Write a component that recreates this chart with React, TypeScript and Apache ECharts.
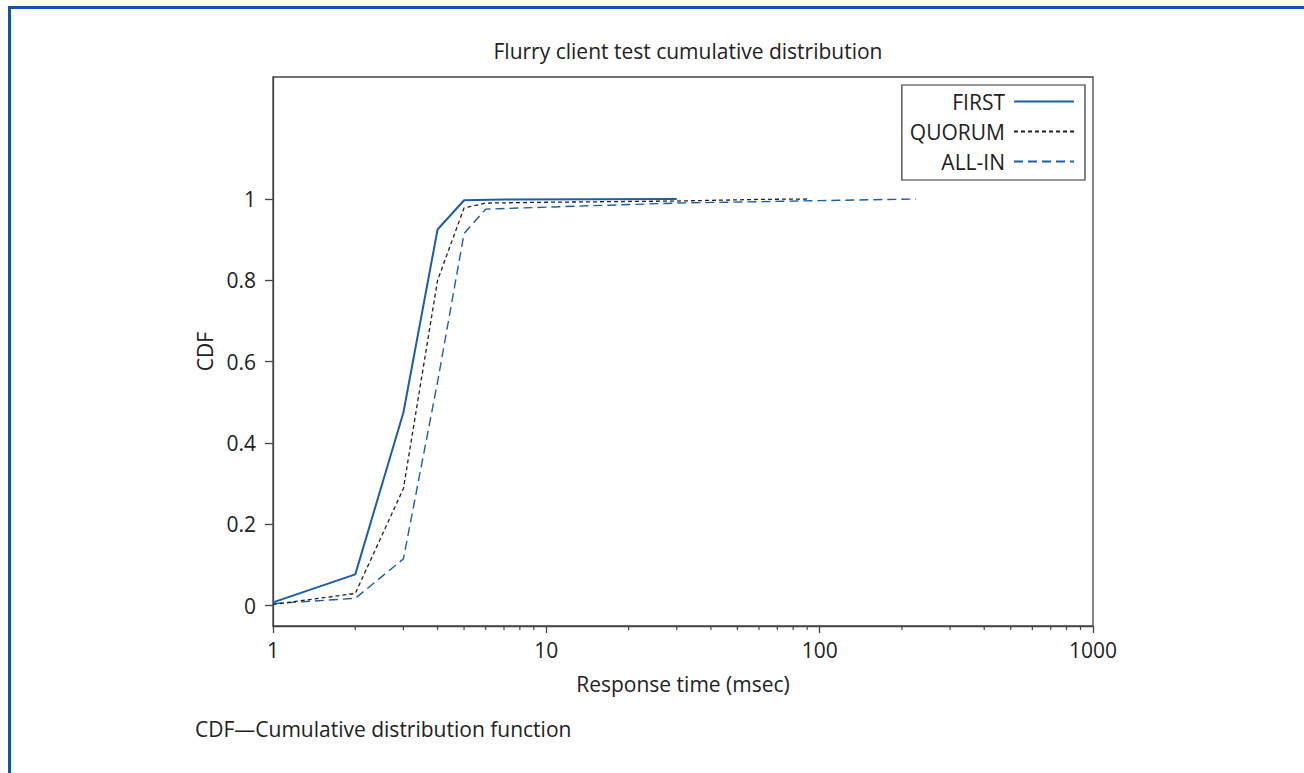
import React, { useEffect, useRef } from "react";
import * as echarts from "echarts";

const FONT = "'Open Sans', 'Noto Sans', sans-serif";
const FS = 21;
const BLUE = "#1a5fa8";
const DARK = "#222222";

const seriesNames = ["FIRST", "QUORUM", "ALL-IN"];

// [response time (msec), CDF]
const firstData: [number, number][] = [
  [1, 0.008], [2, 0.077], [3, 0.475], [4, 0.925], [5, 0.997], [7, 0.999], [30, 1.0],
];
const quorumData: [number, number][] = [
  [1, 0.003], [2, 0.03], [3, 0.288], [4, 0.8], [5, 0.978], [6, 0.99], [10, 0.992], [30, 0.995], [60, 0.999], [90, 1.0],
];
const allInData: [number, number][] = [
  [1, 0.005], [2, 0.018], [3, 0.115], [4, 0.55], [5, 0.915], [6, 0.975], [10, 0.98], [30, 0.99], [100, 0.996], [225, 1.0],
];

const yTicks = [0, 0.2, 0.4, 0.6, 0.8, 1];
const xMinorTicks = [2, 3, 4, 5, 6, 7, 8, 9, 20, 30, 40, 50, 60, 70, 80, 90, 200, 300, 400, 500, 600, 700, 800, 900];

const Y_MIN = -0.05;
const Y_MAX = 1.3;

export default function App() {
  const ref = useRef<HTMLDivElement>(null);
  useEffect(() => {
    if (!ref.current) return;
    const chart = echarts.init(ref.current, null, { renderer: "svg" });
    chart.setOption({
      animation: false,
      backgroundColor: "#ffffff",
      textStyle: { fontFamily: FONT },
      title: {
        text: "Flurry client test cumulative distribution",
        left: 683,
        textAlign: "center",
        top: 35,
        textStyle: { fontFamily: FONT, fontSize: FS, fontWeight: "normal", color: DARK },
      },
      legend: {
        data: seriesNames,
        orient: "vertical",
        right: 219,
        top: 85,
        align: "right",
        itemWidth: 60,
        itemHeight: 14,
        itemGap: 9,
        padding: [6, 10, 8, 8],
        borderColor: "#333",
        borderWidth: 1.2,
        itemStyle: { opacity: 0 },
        textStyle: { fontFamily: FONT, fontSize: FS, color: DARK, padding: [0, 4, 0, 0] },
      },
      grid: {
        left: 273,
        top: 77,
        right: 211,
        bottom: 147,
        show: true,
        borderColor: "#444",
        borderWidth: 1.3,
        backgroundColor: "transparent",
      },
      xAxis: {
        type: "log",
        logBase: 10,
        min: 1,
        max: 1000,
        name: "Response time (msec)",
        nameLocation: "middle",
        nameGap: 47,
        nameTextStyle: { fontFamily: FONT, fontSize: FS, color: DARK },
        axisLine: { show: true, onZero: false, lineStyle: { color: "#444", width: 1.3 } },
        axisTick: { show: true, length: 7, lineStyle: { color: "#444", width: 1.3 } },
        axisLabel: {
          fontFamily: FONT,
          fontSize: FS,
          color: DARK,
          margin: 13,
          formatter: (v: number) => String(Math.round(v)),
        },
        splitLine: { show: false },
      },
      yAxis: {
        type: "value",
        min: Y_MIN,
        max: Y_MAX,
        name: "CDF",
        nameLocation: "middle",
        nameGap: 56,
        nameTextStyle: { fontFamily: FONT, fontSize: FS, color: DARK },
        axisLine: { show: true, onZero: false, lineStyle: { color: "#444", width: 1.3 } },
        axisTick: { show: true, length: 8, customValues: yTicks, lineStyle: { color: "#444", width: 1.3 } },
        axisLabel: {
          fontFamily: FONT,
          fontSize: FS,
          color: DARK,
          margin: 17,
          customValues: yTicks,
          formatter: (v: number) => String(Math.round(v * 10) / 10),
        },
        splitLine: { show: false },
      },
      series: [
        {
          name: "FIRST",
          type: "line",
          data: firstData,
          symbol: "none",
          color: BLUE,
          lineStyle: { color: BLUE, width: 2, type: "solid" },
          z: 3,
        },
        {
          name: "QUORUM",
          type: "line",
          data: quorumData,
          symbol: "none",
          color: DARK,
          lineStyle: { color: DARK, width: 1.3, type: [4, 3] },
          z: 4,
        },
        {
          name: "ALL-IN",
          type: "line",
          data: allInData,
          symbol: "none",
          color: BLUE,
          lineStyle: { color: BLUE, width: 1.4, type: [9, 5] },
          z: 2,
        },
        {
          name: "minorTicks",
          type: "custom",
          silent: true,
          clip: false,
          data: xMinorTicks.map((v) => [v, Y_MIN]),
          encode: { x: 0, y: 1 },
          renderItem: (_params: any, api: any) => {
            const p = api.coord([api.value(0), Y_MIN]);
            return {
              type: "line",
              shape: { x1: p[0], y1: p[1], x2: p[0], y2: p[1] + 4 },
              style: { stroke: "#444", lineWidth: 1.2 },
            };
          },
        },
      ],
      graphic: [
        {
          type: "polyline",
          shape: { points: [[9.5, 773], [9.5, 7.5], [1304, 7.5]] },
          style: { stroke: "#0b58a6", lineWidth: 3, fill: "none" },
        },
        {
          type: "text",
          left: 195,
          top: 718,
          style: { text: "CDF\u2014Cumulative distribution function", fontFamily: FONT, fontSize: FS, fill: DARK },
        },
      ],
    });
    return () => chart.dispose();
  }, []);
  return (
    <div
      ref={ref}
      style={{ position: "absolute", left: 0, top: 0, width: 1304, height: 773, background: "#fff" }}
    />
  );
}
